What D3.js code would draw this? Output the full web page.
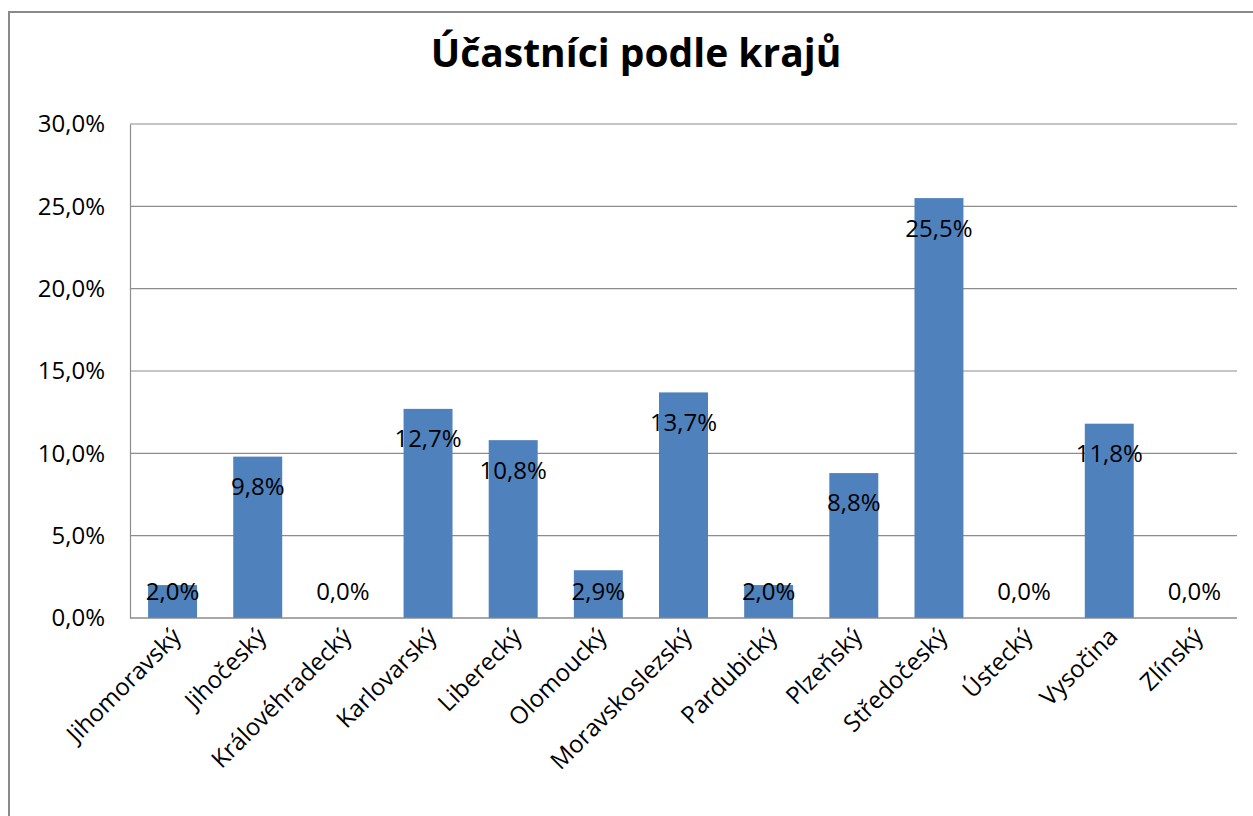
<!DOCTYPE html>
<html>
<head>
<meta charset="utf-8">
<script src="https://cdn.jsdelivr.net/npm/d3@7"></script>
<style>
  body { margin: 0; background: #fff; }
  text { font-family: "Open Sans", sans-serif; fill: #000; }
</style>
</head>
<body>
<svg id="chart"></svg>
<script>
// Chart data
const regions = ["Jihomoravský", "Jihočeský", "Královéhradecký", "Karlovarský", "Liberecký",
    "Olomoucký", "Moravskoslezský", "Pardubický", "Plzeňský", "Středočeský",
    "Ústecký", "Vysočina", "Zlínský"];
const shares = [2.0, 9.8, 0.0, 12.7, 10.8, 2.9, 13.7, 2.0, 8.8, 25.5, 0.0, 11.8, 0.0];
const yTicks = [0, 5, 10, 15, 20, 25, 30];
const title = "Účastníci podle krajů";

const W = 1253, H = 816;
let margin = {top: 124, right: 16, bottom: 198, left: 130},
    width = W - margin.left - margin.right,
    height = H - margin.top - margin.bottom;

const fmt = v => d3.format(".1f")(v).replace(".", ",") + "%";

let svg = d3.select("#chart").attr("width", W).attr("height", H);

// outer frame
svg.append("rect")
    .attr("x", 9).attr("y", 12)
    .attr("width", W + 10).attr("height", H + 10)
    .attr("fill", "none")
    .attr("stroke", "#8a8a8a")
    .attr("stroke-width", 2);

svg.append("text")
    .attr("x", 636)
    .attr("y", 67)
    .style("text-anchor", "middle")
    .style("font-size", "39px")
    .style("font-weight", "bold")
    .text(title);

let g = svg.append("g").attr("transform", `translate(${margin.left},${margin.top})`);

let x = d3.scaleBand()
    .domain(regions)
    .range([0, width])
    .paddingInner(0.425)
    .paddingOuter(0.2125);

let y = d3.scaleLinear()
    .domain([0, 30])
    .range([height, 0]);

// gridlines
g.selectAll(".grid")
    .data(yTicks)
    .enter().append("line")
    .attr("x1", 0).attr("x2", width)
    .attr("y1", d => y(d)).attr("y2", d => y(d))
    .attr("stroke", "#8c8c8c")
    .attr("stroke-width", 1.2);

// y axis
let yAxis = g.append("g")
    .call(d3.axisLeft(y).tickValues(yTicks).tickSize(0).tickPadding(25).tickFormat(fmt));
yAxis.select(".domain").attr("stroke", "#8c8c8c").attr("stroke-width", 1.2);
yAxis.selectAll("text").style("font-size", "24px").style("font-family", "'Open Sans', sans-serif").attr("fill", "#000");

// bars
g.selectAll(".bar")
    .data(shares)
    .enter().append("rect")
    .attr("x", (d, i) => x(regions[i]))
    .attr("y", d => y(d))
    .attr("width", x.bandwidth())
    .attr("height", d => height - y(d))
    .attr("fill", "#4f81bd");

// x axis line on top of bars
g.append("line")
    .attr("x1", 0).attr("x2", width)
    .attr("y1", height).attr("y2", height)
    .attr("stroke", "#8c8c8c")
    .attr("stroke-width", 1.2);

// value labels
g.selectAll(".val")
    .data(shares)
    .enter().append("text")
    .attr("x", (d, i) => x(regions[i]) + x.bandwidth() / 2)
    .attr("y", d => Math.min(y(d) + 30, height - 26))
    .attr("dy", "0.35em")
    .style("text-anchor", "middle")
    .style("font-size", "24px")
    .text(d => fmt(d));

// category labels
g.selectAll(".cat")
    .data(regions)
    .enter().append("text")
    .attr("transform", d => `translate(${x(d) + x.bandwidth() / 2 + 10},${height + 20}) rotate(-45)`)
    .style("text-anchor", "end")
    .style("font-size", "24px")
    .text(d => d);
</script>
</body>
</html>
